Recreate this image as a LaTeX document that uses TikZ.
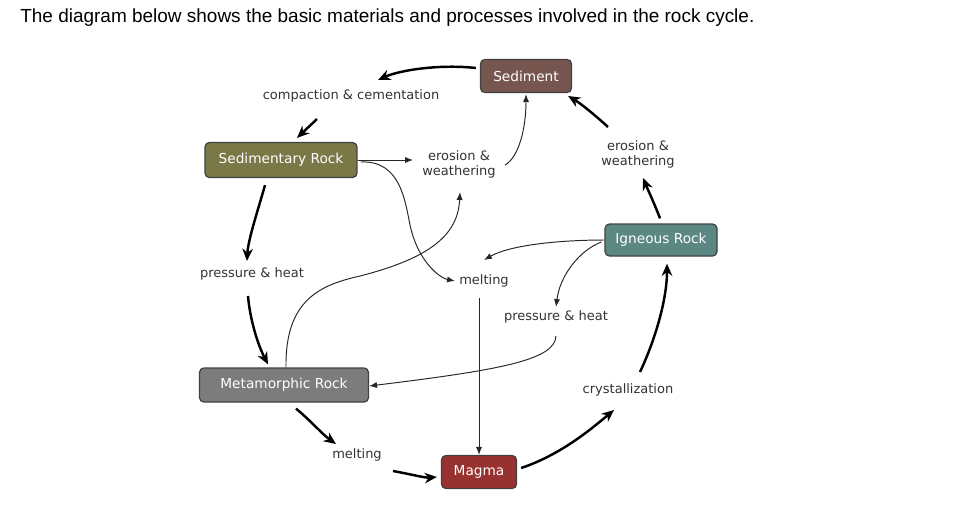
\documentclass[tikz,border=0pt]{standalone}
\usepackage{fontspec}
\setmainfont{DejaVu Sans}
\newfontfamily\titlefont{Liberation Sans}
\usetikzlibrary{arrows.meta,positioning}
\definecolor{sedcol}{HTML}{785650}
\definecolor{sedrockcol}{HTML}{7A7847}
\definecolor{igncol}{HTML}{5B8883}
\definecolor{metacol}{HTML}{7C7C7C}
\definecolor{magmacol}{HTML}{983230}
\tikzset{
  roca/.style={rounded corners=2.5pt,draw=black!75,line width=0.7pt,text=white,
    font=\fontsize{7.8}{8}\selectfont,inner sep=0pt},
  proc/.style={text=black!80,font=\fontsize{7.4}{8.6}\selectfont,inner sep=0pt,align=center},
  ciclo/.style={-{Stealth[length=7pt,width=6pt]},line width=1.4pt},
  enlace/.style={-{Latex[length=4.5pt,width=3.5pt]},line width=0.55pt,black!85}
}
\begin{document}
\begin{tikzpicture}[x=0.02cm,y=-0.02cm]
\useasboundingbox (0,0) rectangle (979,508);
\node[anchor=west,inner sep=0pt,font=\titlefont\fontsize{10.8}{12}\selectfont] (titulo) at (20,18)
  {The diagram below shows the basic materials and processes involved in the rock cycle.};
% rocas
\node[roca,fill=sedcol,minimum width=1.82cm,minimum height=0.66cm] (sed) at (526,76) {Sediment};
\node[roca,fill=sedrockcol,minimum width=3.04cm,minimum height=0.70cm] (sr) at (281,160) {Sedimentary Rock};
\node[roca,fill=igncol,minimum width=2.24cm,minimum height=0.64cm] (ig) at (661,240) {Igneous Rock};
\node[roca,fill=metacol,minimum width=3.38cm,minimum height=0.68cm] (mr) at (284,385) {Metamorphic Rock};
\node[roca,fill=magmacol,minimum width=1.50cm,minimum height=0.66cm] (mg) at (479,472) {Magma};
% procesos
\node[proc] (cc) at (351,96) {compaction \& cementation};
\node[proc] (em) at (459,164) {erosion \&\\weathering};
\node[proc] (er) at (638,154) {erosion \&\\weathering};
\node[proc] (pl) at (252,274) {pressure \& heat};
\node[proc] (mm) at (484,281) {melting};
\node[proc] (pr) at (556,317) {pressure \& heat};
\node[proc] (cr) at (628,390) {crystallization};
\node[proc] (ml) at (357,455) {melting};
% ciclo principal
\draw[ciclo] ([shift={(-4,-8)}]sed.west) .. controls (440,64) and (400,70) .. ([shift={(27,-16)}]cc.center);
\draw[ciclo] ([shift={(-34,23)}]cc.center) -- ([shift={(16,-4)}]sr.north);
\draw[ciclo] ([shift={(-16,7)}]sr.south) .. controls (258,210) and (248,240) .. ([shift={(-5,-13)}]pl.center);
\draw[ciclo] ([shift={(-4,22)}]pl.center) .. controls (250,320) and (258,345) .. ([shift={(-16,-3)}]mr.north);
\draw[ciclo] ([shift={(12,6)}]mr.south) .. controls (310,420) and (322,434) .. ([shift={(-21,-11)}]ml.center);
\draw[ciclo] ([shift={(36,16)}]ml.center) .. controls (410,474) and (425,478) .. ([shift={(-4,5)}]mg.west);
\draw[ciclo] ([shift={(4,-4)}]mg.east) .. controls (560,455) and (590,430) .. ([shift={(-14,20)}]cr.center);
\draw[ciclo] ([shift={(12,-18)}]cr.center) .. controls (655,340) and (667,300) .. ([shift={(6,7)}]ig.south);
\draw[ciclo] ([shift={(-1,-5)}]ig.north) .. controls (655,205) and (648,190) .. ([shift={(5,24)}]er.center);
\draw[ciclo] ([shift={(-30,-27)}]er.center) .. controls (595,115) and (580,103) .. ([shift={(-4,20)}]sed.east);
% enlaces finos
\draw[enlace] (sr.east) -- ([shift={(-46,-4)}]em.center);
\draw[enlace] ([shift={(46,1)}]em.center) .. controls (518,158) and (526,130) .. ([shift={(0,1)}]sed.south);
\draw[enlace] ([shift={(2,0)}]mr.north) .. controls (285,300) and (320,285) .. (360,276)
  .. controls (430,258) and (458,235) .. ([shift={(1,28)}]em.center);
\draw[enlace] ([shift={(3,2)}]sr.east) .. controls (400,160) and (405,200) .. (410,225)
  .. controls (418,262) and (440,278) .. ([shift={(-4,0)}]mm.west);
\draw[enlace] (ig.west) .. controls (560,240) and (510,245) .. ([shift={(0,-21)}]mm.center);
\draw[enlace] ([shift={(-3,2)}]ig.west) .. controls (580,250) and (560,275) .. ([shift={(0,-10)}]pr.center);
\draw[enlace] ([shift={(0,19)}]pr.center) .. controls (555,360) and (500,370) .. ([shift={(0,1)}]mr.east);
\draw[enlace] ([shift={(-5,17)}]mm.center) -- (mg.north);
\end{tikzpicture}
\end{document}
